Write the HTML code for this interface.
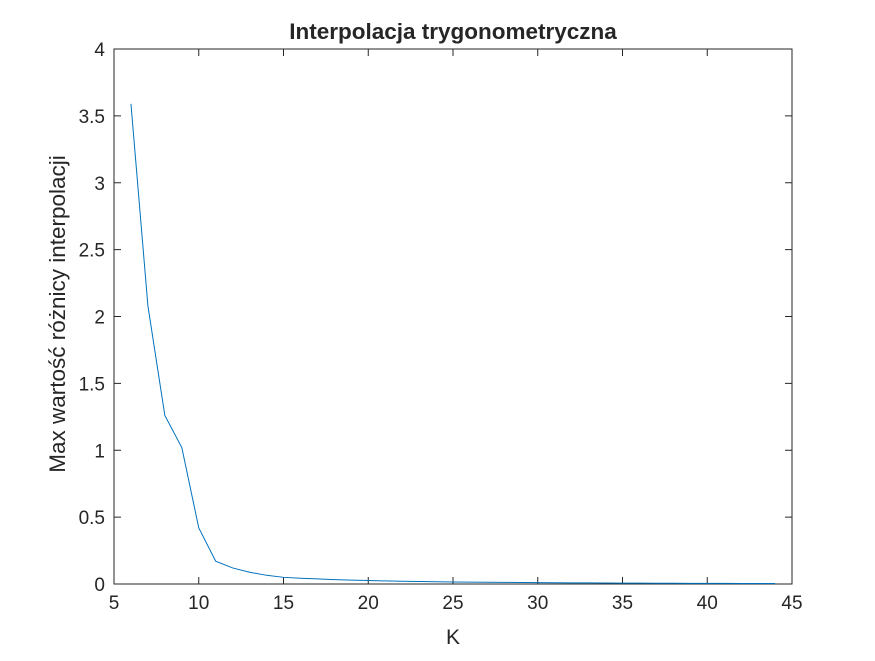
<!DOCTYPE html>
<html><head><meta charset="utf-8"><style>
body{margin:0;background:#fff;}
text{font-family:"Liberation Sans",Arial,sans-serif;fill:#262626;}
</style></head><body>
<svg id="chart" width="875" height="656" xmlns="http://www.w3.org/2000/svg">
<rect width="875" height="656" fill="#fff"/>
<g id="axes"></g>
<text x="453" y="39" text-anchor="middle" font-size="22.5" font-weight="bold">Interpolacja trygonometryczna</text>
<text x="453" y="644" text-anchor="middle" font-size="21">K</text>
<text transform="translate(65,314) rotate(-90)" text-anchor="middle" font-size="22.5">Max wartość różnicy interpolacji</text>
</svg>
<script>
const kValues=[6,7,8,9,10,11,12,13,14,15,16,17,18,19,20,21,22,23,24,25,26,27,28,29,30,31,32,33,34,35,36,37,38,39,40,41,42,43,44];
const errValues=[3.59,2.08,1.26,1.02,0.42,0.17,0.12,0.088,0.065,0.05,0.043,0.038,0.033,0.029,0.026,0.023,0.021,0.019,0.017,0.015,0.014,0.013,0.012,0.011,0.010,0.009,0.0085,0.008,0.0075,0.007,0.0065,0.006,0.0055,0.005,0.0047,0.0044,0.0041,0.0038,0.0035];
const xTicks=[5,10,15,20,25,30,35,40,45];
const yTicks=[0,0.5,1,1.5,2,2.5,3,3.5,4];
const L=114,R=792,T=49,B=584;
const sx=v=>L+(v-5)/40*(R-L), sy=v=>B-v/4*(B-T);
const ns="http://www.w3.org/2000/svg", g=document.getElementById('axes');
function mk(t,a){const e=document.createElementNS(ns,t);for(const k in a)e.setAttribute(k,a[k]);g.appendChild(e);return e;}
const box=mk('rect',{x:L,y:T,width:R-L,height:B-T,fill:'none',stroke:'#262626','stroke-width':1});


xTicks.forEach(v=>{const x=sx(v);
mk('line',{x1:x,x2:x,y1:B,y2:B-7,stroke:'#262626'});mk('line',{x1:x,x2:x,y1:T,y2:T+7,stroke:'#262626'});
const t=mk('text',{x:x,y:B+25,'text-anchor':'middle','font-size':'19'});t.textContent=v;

});
yTicks.forEach(v=>{const y=sy(v);
mk('line',{x1:L,x2:L+7,y1:y,y2:y,stroke:'#262626'});mk('line',{x1:R,x2:R-7,y1:y,y2:y,stroke:'#262626'});
const t=mk('text',{x:L-9,y:y+7,'text-anchor':'end','font-size':'19'});t.textContent=v;

});
const p=mk('polyline',{points:kValues.map((k,i)=>sx(k)+','+sy(errValues[i])).join(' '),fill:'none',stroke:'#0072bd','stroke-width':1});


</script>
</body></html>
